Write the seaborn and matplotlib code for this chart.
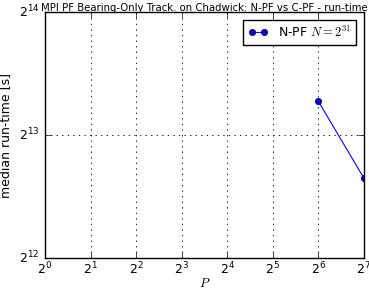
import matplotlib
matplotlib.use("Agg")
import matplotlib.pyplot as plt
import matplotlib.ticker as ticker
import numpy as np
import pandas as pd
import seaborn as sns

# Données
procs = [64, 128]
runtime = [9920, 6430]
label = "N-PF $N=2^{31}$"

plt.style.use("classic")

df = pd.DataFrame({"P": procs, "t": runtime})

fig = plt.figure(figsize=(3.69, 2.89), dpi=100)
ax = fig.add_axes([0.122, 0.107, 0.864, 0.851])

sns.lineplot(data=df, x="P", y="t", ax=ax, color="b", marker="o",
             markersize=4.5, markeredgecolor="k", markeredgewidth=0.5,
             linewidth=0.8, label=label)

ax.set_xscale("log", base=2)
ax.set_yscale("log", base=2)
ax.set_xlim(2 ** 0, 2 ** 7)
ax.set_ylim(2 ** 12, 2 ** 14)
ax.xaxis.set_major_locator(ticker.LogLocator(base=2, numticks=20))
ax.yaxis.set_major_locator(ticker.LogLocator(base=2, numticks=20))
ax.xaxis.set_major_formatter(ticker.LogFormatterMathtext(base=2))
ax.yaxis.set_major_formatter(ticker.LogFormatterMathtext(base=2))
ax.xaxis.set_minor_locator(ticker.NullLocator())
ax.yaxis.set_minor_locator(ticker.NullLocator())
ax.tick_params(labelsize=9)
ax.tick_params(axis="x", pad=2)
ax.grid(True, linestyle=":", color="k", linewidth=0.6)

ax.set_xlabel("$P$", fontsize=9, labelpad=0)
ax.set_ylabel("median run-time [s]", fontsize=9)
ax.set_title("MPI PF Bearing-Only Track. on Chadwick: N-PF vs C-PF - run-time",
             fontsize=7.3, pad=0.5)
ax.legend(loc="upper right", fontsize=9, fancybox=False, numpoints=2,
          handlelength=1.6, borderaxespad=0.6)

fig.savefig("out.png", dpi=100)
